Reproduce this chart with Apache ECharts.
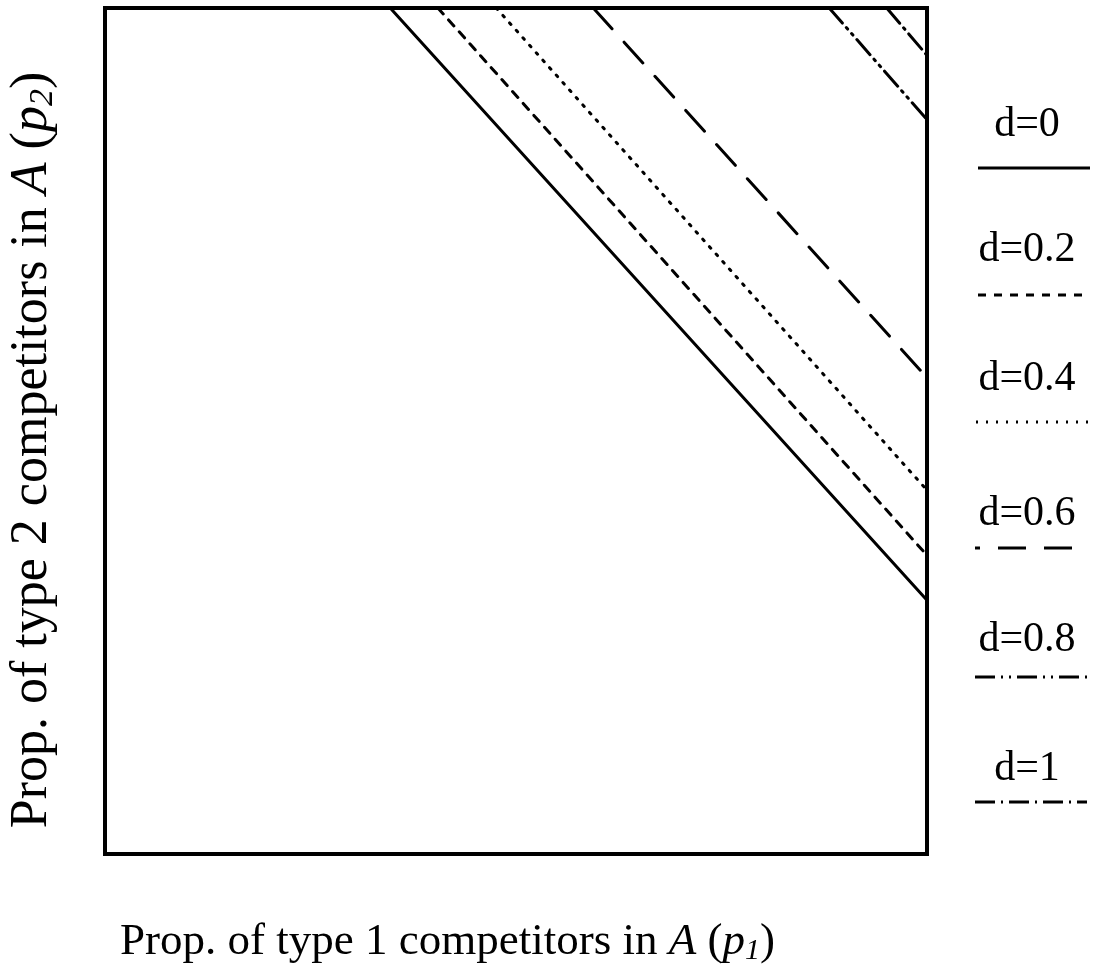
<!DOCTYPE html>
<html>
<head>
<meta charset="utf-8">
<script src="https://cdn.jsdelivr.net/npm/echarts@6/dist/echarts.min.js"></script>
<style>
  html, body { margin: 0; padding: 0; background: #fff; }
  #chart { width: 1097px; height: 979px; }
</style>
</head>
<body>
<div id="chart"></div>
<script>
// Boundary lines for each value of d: each runs from the top edge (p2 = 1)
// down to the right edge (p1 = 1).
const dLabels = ['d=0', 'd=0.2', 'd=0.4', 'd=0.6', 'd=0.8', 'd=1'];
const p1AtTop = [0.347, 0.405, 0.476, 0.594, 0.881, 0.951];   // p1 where p2 = 1
const p2AtRight = [0.300, 0.353, 0.430, 0.563, 0.868, 0.944]; // p2 where p1 = 1

// Line patterns: solid, dashed, dotted, long dash, dash-dot-dot, dash-dot
const dashPatterns = ['solid', [8, 8], [2, 8], [28, 18], [20, 6, 2, 6, 2, 6], [20, 6, 2, 6]];
const legendDashOffset = [0, 0, 0, 23, 0, 0];

const xTitle = '{n|Prop. of type 1 competitors in }{i|A}{n| (}{i|p}{s|1}{n|)}';
const yTitle = '{n|Prop. of type 2 competitors in }{i|A}{n| (}{i|p}{s|2}{n|)}';

const SERIF = '"Liberation Serif", "DejaVu Serif", serif';
const BLACK = '#000';

function titleRich(size) {
  return {
    n: { fontFamily: SERIF, fontSize: size, fill: BLACK, color: BLACK },
    i: { fontFamily: SERIF, fontSize: size, fill: BLACK, color: BLACK, fontStyle: 'italic' },
    s: { fontFamily: SERIF, fontSize: Math.round(size * 0.66), fill: BLACK, color: BLACK,
         fontStyle: 'italic', padding: [Math.round(size * 0.42), 0, 0, 0] }
  };
}

const chart = echarts.init(document.getElementById('chart'));

const series = dLabels.map((name, i) => ({
  name: name,
  type: 'line',
  symbol: 'none',
  silent: true,
  data: [[p1AtTop[i], 1], [1, p2AtRight[i]]],
  lineStyle: { color: BLACK, width: 3, type: dashPatterns[i], cap: 'round' }
}));

// Legend column: each label sits above a sample of its line
const legendTextMid = [125, 250, 379, 514, 640, 769];
const legendLineY = [168, 295, 422, 548, 677, 802];
const legendLineX = [[978, 1090], [978, 1090], [976, 1088], [975, 1078], [975, 1087], [975, 1087]];
const legendGraphic = [];
dLabels.forEach((name, i) => {
  legendGraphic.push({
    type: 'text',
    x: 1027, y: legendTextMid[i],
    style: {
      text: name, font: '42px ' + SERIF, fill: BLACK,
      textAlign: 'center', textVerticalAlign: 'middle'
    }
  });
  legendGraphic.push({
    type: 'line',
    shape: { x1: legendLineX[i][0], y1: legendLineY[i], x2: legendLineX[i][1], y2: legendLineY[i] },
    style: {
      stroke: BLACK, lineWidth: 3,
      lineDash: dashPatterns[i] === 'solid' ? null : dashPatterns[i],
      lineDashOffset: legendDashOffset[i]
    }
  });
});

// Axis titles
legendGraphic.push({
  type: 'text',
  x: 120, y: 942,
  style: { text: xTitle, rich: titleRich(45), textAlign: 'left', textVerticalAlign: 'middle' }
});
legendGraphic.push({
  type: 'text',
  x: 32, y: 450, rotation: Math.PI / 2,
  style: { text: yTitle, rich: titleRich(52), textAlign: 'center', textVerticalAlign: 'middle' }
});

chart.setOption({
  animation: false,
  backgroundColor: '#fff',
  grid: {
    left: 105, right: 170, top: 8, bottom: 125,
    show: true, borderColor: BLACK, borderWidth: 4, backgroundColor: 'transparent'
  },
  xAxis: {
    type: 'value', min: 0, max: 1,
    axisLine: { show: false }, axisTick: { show: false },
    axisLabel: { show: false }, splitLine: { show: false }
  },
  yAxis: {
    type: 'value', min: 0, max: 1,
    axisLine: { show: false }, axisTick: { show: false },
    axisLabel: { show: false }, splitLine: { show: false }
  },
  graphic: legendGraphic,
  series: series
});
</script>
</body>
</html>
